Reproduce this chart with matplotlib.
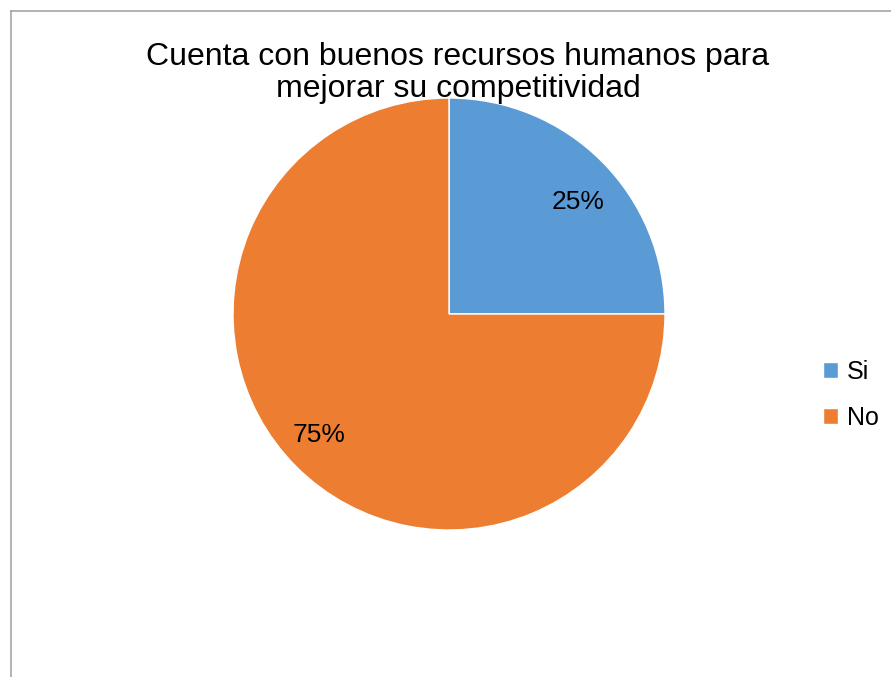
import numpy as np
import matplotlib.pyplot as plt
from matplotlib.lines import Line2D

labels = ['Si', 'No']
values = [25, 75]
colors = ['#5B9BD5', '#ED7D31']
title = 'Cuenta con buenos recursos humanos para\nmejorar su competitividad'

plt.rcParams['font.family'] = ['Liberation Sans', 'DejaVu Sans']

W, H = 891, 677
fig = plt.figure(figsize=(W / 100, H / 100), dpi=100)

# pie area: 432 px square centred at (449, 314)
ax = fig.add_axes([233 / W, (H - 530) / H, 432 / W, 432 / H])
wedges, texts, autotexts = ax.pie(values, colors=colors, startangle=90, counterclock=False,
                                  autopct='%1.0f%%', pctdistance=0.8,
                                  wedgeprops=dict(edgecolor='white', linewidth=1),
                                  textprops=dict(fontsize=19, color='black'))
# nudge the percentage labels a little off the wedge bisector
for w, t, r, dth in zip(wedges, autotexts, [0.79, 0.82], [-4, -2]):
    a = np.deg2rad((w.theta1 + w.theta2) / 2 + dth)
    t.set_position((r * np.cos(a), r * np.sin(a)))
ax.set_xlim(-1, 1)
ax.set_ylim(-1, 1)
ax.set_aspect('equal')

fig.text(458 / W, 1 - 73 / H, title, ha='center', va='center', fontsize=23,
         linespacing=1.13)

fig.legend(wedges, labels, loc='center left', bbox_to_anchor=(813 / W, 1 - 395 / H),
           frameon=False, fontsize=18, handlelength=0.6, handleheight=0.6,
           handletextpad=0.35, labelspacing=0.9, borderaxespad=0, borderpad=0.4)

# chart area border (top and left edges visible)
fig.add_artist(Line2D([11 / W, 11 / W], [0, 1 - 11 / H], color='#A6A6A6', lw=1.2))
fig.add_artist(Line2D([11 / W, 1], [1 - 11 / H, 1 - 11 / H], color='#A6A6A6', lw=1.2))

fig.savefig('out.png', dpi=100)
